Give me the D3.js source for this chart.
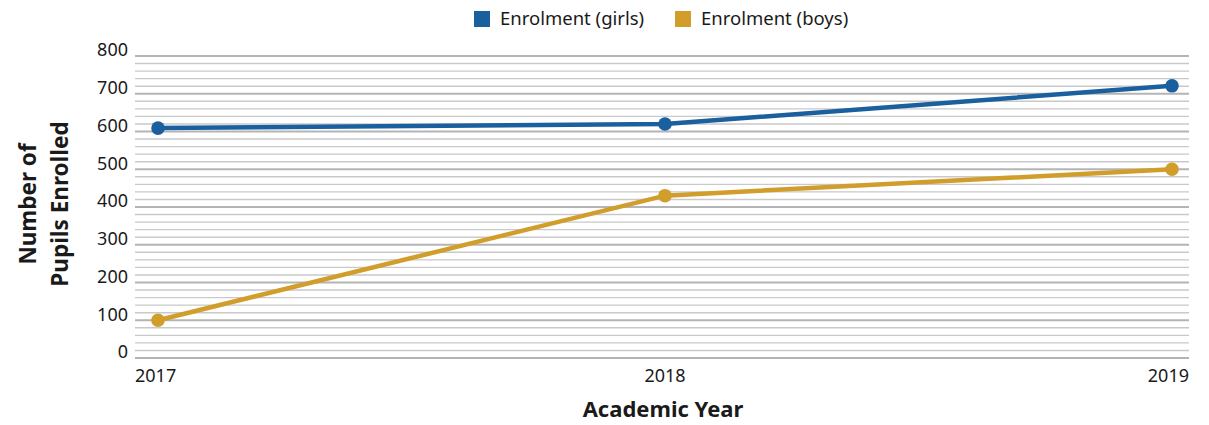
<!DOCTYPE html>
<html>
<head>
<meta charset="utf-8">
<script src="https://cdn.jsdelivr.net/npm/d3@7"></script>
<style>
  body { margin: 0; background: #fff; }
  text { font-family: "Noto Sans", sans-serif; fill: #1a1a1a; }
</style>
</head>
<body>
<svg width="1209" height="425"></svg>
<script>
var years = [2017, 2018, 2019];
var girls = [609, 620, 721];
var boys = [100, 430, 500];
var seriesNames = ["Enrolment (girls)", "Enrolment (boys)"];
var colors = ["#1a5f9e", "#d19d2b"];

var svg = d3.select("svg"),
    plotLeft = 135, plotRight = 1189, plotTop = 56, plotBottom = 358;

var x = d3.scaleLinear().domain([2017, 2019]).range([158, 1172]);
var y = d3.scaleLinear().domain([0, 800]).range([plotBottom, plotTop]);

// grid: minor every 20, major every 100
var grid = svg.append("g");
grid.selectAll("line")
  .data(d3.range(0, 801, 20))
  .enter().append("line")
    .attr("x1", plotLeft).attr("x2", plotRight)
    .attr("y1", d => y(d)).attr("y2", d => y(d))
    .attr("stroke", d => d % 100 === 0 ? "#b4b4b6" : "#c9c9cb")
    .attr("stroke-width", d => d % 100 === 0 ? 2.2 : 1.4);

// y labels (sit slightly above their lines like the original)
svg.append("g").selectAll("text")
  .data(d3.range(0, 801, 100))
  .enter().append("text")
    .attr("x", 128).attr("y", d => y(d) - 6)
    .attr("dy", "0.35em")
    .attr("text-anchor", "end")
    .style("font-size", "18px")
    .text(d => d);

// x labels
svg.append("g").selectAll("text")
  .data(years)
  .enter().append("text")
    .attr("x", (d, i) => i === 0 ? plotLeft : i === years.length - 1 ? plotRight : x(d))
    .attr("y", 382)
    .attr("text-anchor", (d, i) => i === 0 ? "start" : i === years.length - 1 ? "end" : "middle")
    .style("font-size", "18px")
    .text(d => d);

// axis titles
svg.append("text")
  .attr("x", 663).attr("y", 417)
  .attr("text-anchor", "middle")
  .style("font-size", "22px").style("font-weight", "bold")
  .text("Academic Year");

var yt = svg.append("text")
  .attr("transform", "translate(0,204) rotate(-90)")
  .attr("text-anchor", "middle")
  .style("font-size", "22.5px").style("font-weight", "bold");
yt.append("tspan").attr("x", 0).attr("y", 36).text("Number of");
yt.append("tspan").attr("x", 0).attr("y", 68).text("Pupils Enrolled");

// lines
var line = d3.line().x((d, i) => x(years[i])).y(d => y(d));
[girls, boys].forEach(function(s, k) {
  svg.append("path")
    .attr("d", line(s))
    .attr("fill", "none")
    .attr("stroke", colors[k])
    .attr("stroke-width", 4.5);
  svg.append("g").selectAll("circle")
    .data(s)
    .enter().append("circle")
      .attr("cx", (d, i) => x(years[i]))
      .attr("cy", d => y(d))
      .attr("r", 6.8)
      .attr("fill", colors[k]);
});

// legend
var leg = svg.append("g");
var legX = [474, 675];
seriesNames.forEach(function(n, k) {
  leg.append("rect")
    .attr("x", legX[k]).attr("y", 11)
    .attr("width", 16).attr("height", 16)
    .attr("fill", colors[k]);
  leg.append("text")
    .attr("x", legX[k] + 26).attr("y", 25)
    .style("font-size", "18.5px")
    .text(n);
});
</script>
</body>
</html>
